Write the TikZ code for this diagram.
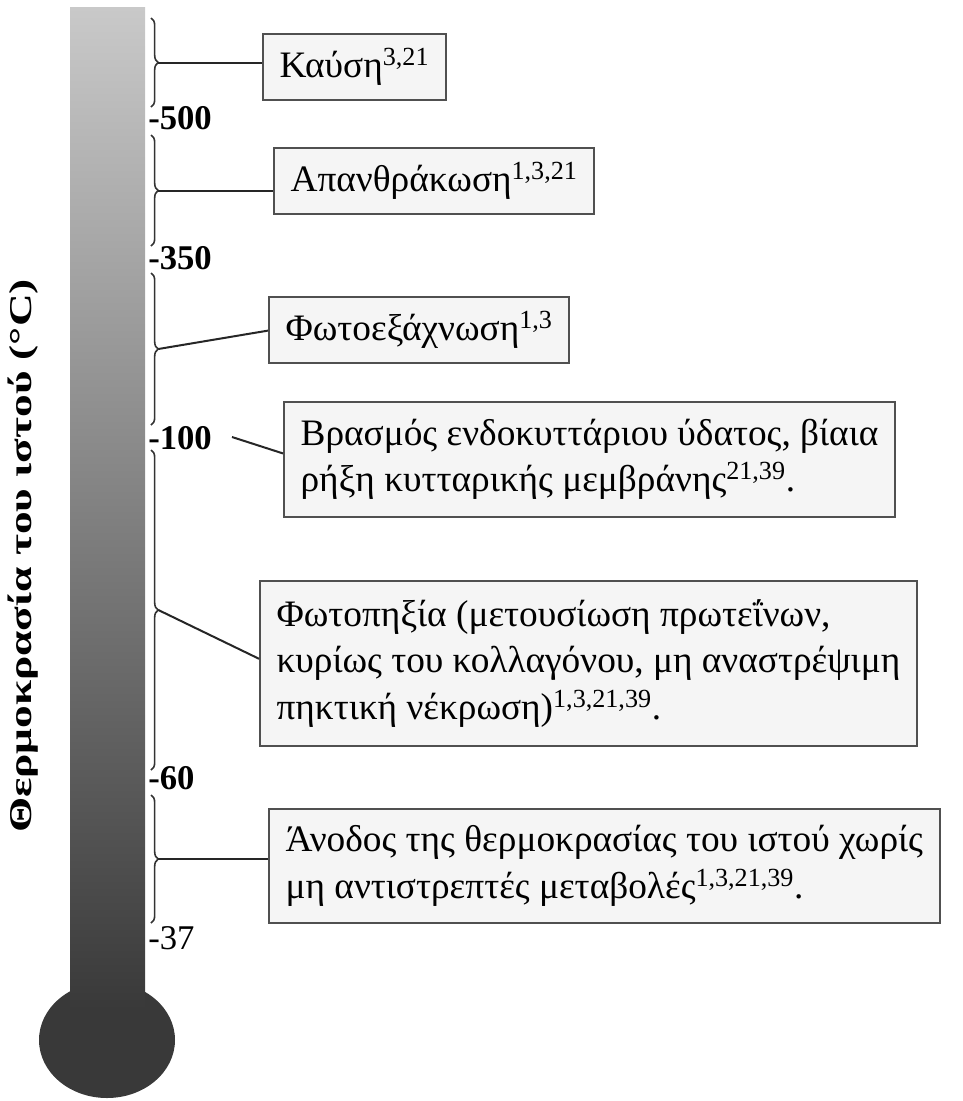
\documentclass[tikz,border=0pt]{standalone}
\usepackage{fontspec}
\usepackage{graphicx}
\setmainfont{Liberation Serif}
\usetikzlibrary{decorations.pathreplacing}
\definecolor{bulbc}{HTML}{393939}
\definecolor{tubetop}{HTML}{C9C9C9}
\definecolor{tubemid}{HTML}{969696}
\definecolor{boxfill}{HTML}{F5F5F5}
\definecolor{boxline}{HTML}{505050}
\tikzset{
  brc/.style={draw=black!80, line width=1.2pt, decorate, decoration={brace, amplitude=5.5pt}},
  conn/.style={draw=black!85, line width=1.5pt},
  tick/.style={anchor=west, inner sep=0pt, font=\bfseries\fontsize{26}{26}\selectfont},
  tickr/.style={anchor=west, inner sep=0pt, font=\fontsize{26}{26}\selectfont},
  box/.style={draw=boxline, line width=1.4pt, fill=boxfill, anchor=north west, align=left,
    inner xsep=12.5pt, inner ysep=0pt, font=\fontsize{28}{35}\selectfont},
}
\begin{document}
\begin{tikzpicture}[x=0.75pt,y=-0.75pt]
\useasboundingbox (0,0) rectangle (963,1101);
% thermometer
\fill[bulbc] (107,1040) ellipse [x radius=68, y radius=58];
\shade[top color=tubetop, middle color=tubemid, bottom color=bulbc] (70,7) rectangle (145,1010);
% axis label
\node[rotate=90, inner sep=0pt, font=\bfseries\fontsize{34}{34}\selectfont] (ylab) at (23,556) {\scalebox{1}[0.7]{Θερμοκρασία του ιστού (°C)}};
% tick labels
\node[tick] (t500) at (148,118) {-500};
\node[tick] (t350) at (148,258) {-350};
\node[tick] (t100) at (148,438) {-100};
\node[tick] (t60) at (148,778) {-60};
\node[tickr] (t37) at (148,938) {-37};
% braces
\draw[brc] (151,18) -- (151,107) coordinate[midway, xshift=5.5pt] (m1);
\draw[brc] (151,135) -- (151,246) coordinate[midway, xshift=5.5pt] (m2);
\draw[brc] (151,273) -- (151,425) coordinate[midway, xshift=5.5pt] (m3);
\draw[brc] (151,450) -- (151,770) coordinate[midway, xshift=5.5pt] (m4);
\draw[brc] (151,795) -- (151,923) coordinate[midway, xshift=5.5pt] (m5);
\coordinate (p100) at (232,437);
% boxes
\node[box, minimum height=49.5pt] (b1) at (262,33) {Καύση\textsuperscript{3,21}};
\node[box, minimum height=49.5pt] (b2) at (273,147) {Απανθράκωση\textsuperscript{1,3,21}};
\node[box, minimum height=49.5pt] (b3) at (268,296) {Φωτοεξάχνωση\textsuperscript{1,3}};
\node[box, minimum height=86.25pt] (b4) at (283,401)
  {Βρασμός ενδοκυττάριου ύδατος, βίαια\\ρήξη κυτταρικής μεμβράνης\textsuperscript{21,39}.};
\node[box, minimum height=123.75pt] (b5) at (259,580)
  {Φωτοπηξία (μετουσίωση πρωτεΐνων,\\κυρίως του κολλαγόνου, μη αναστρέψιμη\\πηκτική νέκρωση)\textsuperscript{1,3,21,39}.};
\node[box, minimum height=85.5pt] (b6) at (268,808)
  {Άνοδος της θερμοκρασίας του ιστού χωρίς\\μη αντιστρεπτές μεταβολές\textsuperscript{1,3,21,39}.};
% connectors
\draw[conn] (m1) -- (m1 -| b1.west);
\draw[conn] (m2) -- (m2 -| b2.west);
\draw[conn] (m3) -- ([yshift=-0.5pt]b3.west);
\draw[conn] (p100) -- ([yshift=4.5pt]b4.west);
\draw[conn] (m4) -- ([yshift=3.5pt]b5.west);
\draw[conn] (m5) -- (m5 -| b6.west);
\end{tikzpicture}
\end{document}
